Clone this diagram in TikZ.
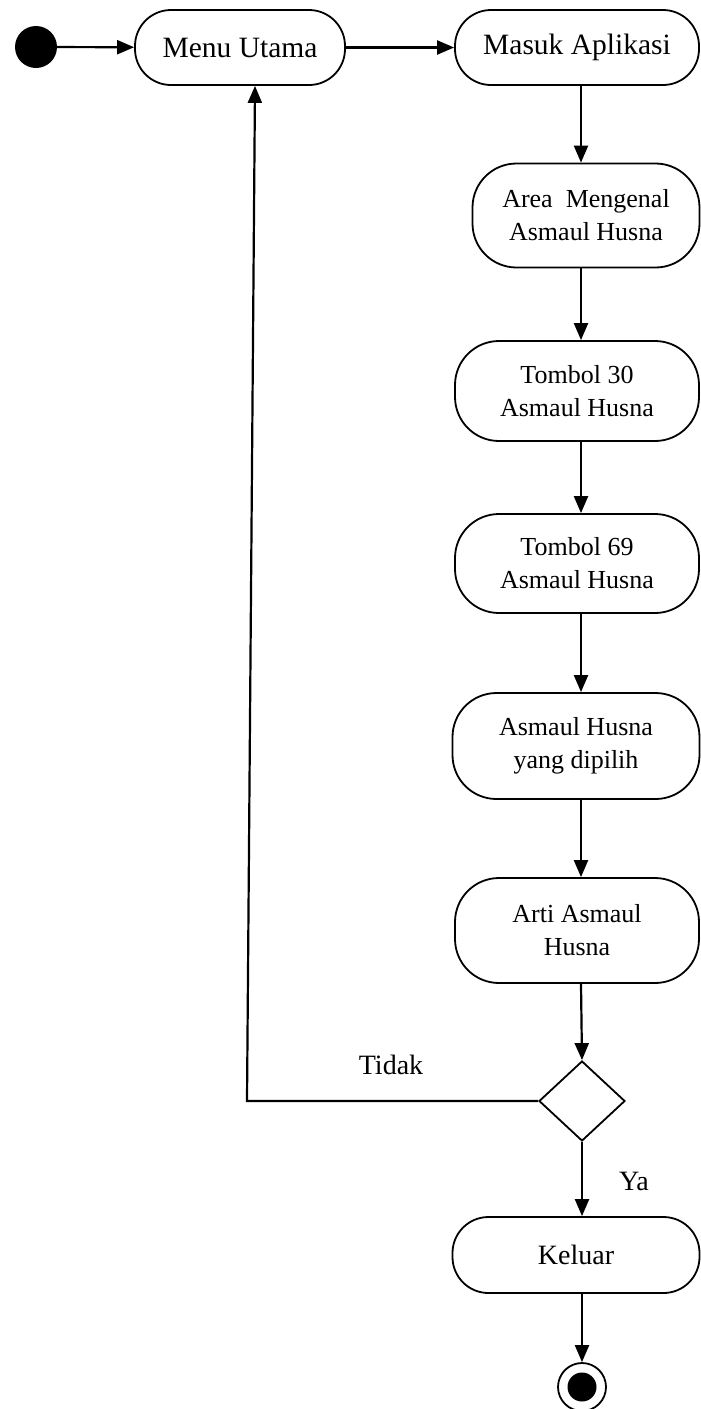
\documentclass[tikz,border=0pt]{standalone}
\usepackage{fontspec}
\setmainfont{Liberation Serif}
\usepackage{tikz}
\usetikzlibrary{arrows.meta,shapes.geometric}
\tikzset{
  actbox/.style={draw, rounded corners=44pt, line width=1.8pt, align=center, inner sep=0pt, font=\fontsize{26}{33}\selectfont},
  actwide/.style={actbox, rounded corners=36pt, font=\fontsize{29.5}{35}\selectfont},
  initdot/.style={circle, fill=black, minimum size=42pt, inner sep=0pt},
  finalring/.style={circle, draw, line width=1.8pt, minimum size=48pt, inner sep=0pt},
  finaldot/.style={circle, fill=black, minimum size=29pt, inner sep=0pt},
  choice/.style={diamond, draw, line width=1.8pt, minimum width=86pt, minimum height=80pt, inner sep=0pt},
  flowarrow/.style={-{Triangle[length=17pt,width=14pt]}, line width=2.2pt},
  guardlabel/.style={font=\fontsize{28}{33}\selectfont}
}

\begin{document}
\begin{tikzpicture}[x=1pt, y=-1pt]
  \useasboundingbox (0,0) rectangle (701,1409);

  \node[initdot] (start) at (36,47) {};
  \node[actwide, minimum width=210pt, minimum height=75pt] (menu) at (240,47.5) {Menu Utama};
  \node[actwide, minimum width=244pt, minimum height=75pt] (masuk) at (577,47.5) {Masuk Aplikasi};
  \node[actbox, minimum width=227pt, minimum height=104pt] (area) at (586,215.5) {Area~ Mengenal\\Asmaul Husna};
  \node[actbox, minimum width=244pt, minimum height=100pt] (t30) at (577,391) {Tombol 30\\Asmaul Husna};
  \node[actbox, minimum width=244pt, minimum height=99pt] (t69) at (577,563.5) {Tombol 69\\Asmaul Husna};
  \node[actbox, minimum width=247pt, minimum height=106pt] (pilih) at (576,746) {Asmaul Husna\\yang dipilih};
  \node[actbox, minimum width=244pt, minimum height=105pt] (arti) at (577,930.5) {Arti Asmaul\\Husna};
  \node[choice] (dec) at (582,1101) {};
  \node[actwide, minimum width=247pt, minimum height=76pt, font=\fontsize{28}{33}\selectfont] (keluar) at (576,1255) {Keluar};
  \node[finalring] (stop) at (582,1387) {};
  \node[finaldot] (stopdot) at (582,1387) {};

  \coordinate (col) at (581,0);
  \coordinate (bend) at (247,1101);
  \coordinate (back) at (255,0);

  \draw[flowarrow] (start) -- (menu);
  \draw[flowarrow] (menu) -- (masuk);
  \draw[flowarrow] (masuk.south -| col) -- (area.north -| col);
  \draw[flowarrow] (area.south -| col) -- (t30.north -| col);
  \draw[flowarrow] (t30.south -| col) -- (t69.north -| col);
  \draw[flowarrow] (t69.south -| col) -- (pilih.north -| col);
  \draw[flowarrow] (pilih.south -| col) -- (arti.north -| col);
  \draw[flowarrow] (arti.south -| col) -- (dec.north);
  \draw[flowarrow] (dec.south) -- (keluar.north -| dec);
  \draw[flowarrow] (keluar.south -| dec) -- (stop.north);
  \draw[flowarrow] (dec.west) -- (bend) -- (menu.south -| back);

  \node[guardlabel] (tidak) at (391,1065) {Tidak};
  \node[guardlabel] (ya) at (634,1181) {Ya};
\end{tikzpicture}
\end{document}
